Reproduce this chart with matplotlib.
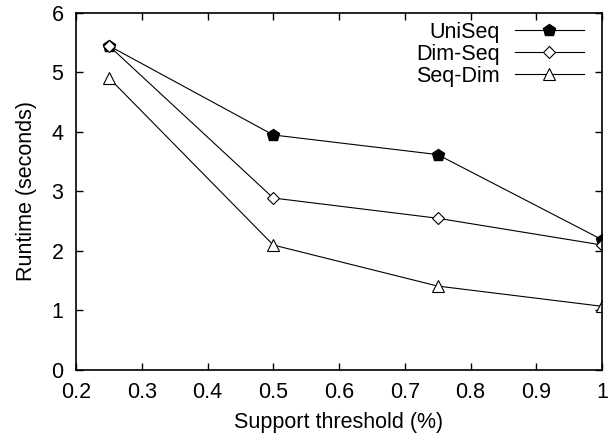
import matplotlib
matplotlib.use("Agg")
import matplotlib.pyplot as plt

plt.rcParams["font.family"] = ["Liberation Sans", "DejaVu Sans"]

support = [0.25, 0.5, 0.75, 1.0]
uniseq = [5.45, 3.95, 3.62, 2.19]
dimseq = [5.45, 2.89, 2.55, 2.10]
seqdim = [4.91, 2.10, 1.41, 1.07]

fig = plt.figure(figsize=(6.14, 4.42), dpi=100)
ax = fig.add_axes([0.1238, 0.163, 0.8567, 0.8076])

ax.plot(support, uniseq, "-", color="black", lw=0.8, marker="p", ms=9,
        mfc="black", mec="black", label="UniSeq")
ax.plot(support, dimseq, "-", color="black", lw=0.8, marker="D", ms=6.5,
        mfc="white", mec="black", mew=0.8, label="Dim-Seq")
ax.plot(support, seqdim, "-", color="black", lw=0.8, marker="^", ms=9,
        mfc="white", mec="black", mew=0.8, label="Seq-Dim")

ax.set_xlim(0.2, 1.0)
ax.set_ylim(0, 6)
ax.set_xticks([0.2, 0.3, 0.4, 0.5, 0.6, 0.7, 0.8, 0.9, 1.0])
ax.set_xticklabels(["0.2", "0.3", "0.4", "0.5", "0.6", "0.7", "0.8", "0.9", "1"])
ax.set_yticks(range(7))
ax.tick_params(direction="in", top=True, right=True, length=5, width=1,
               labelsize=15.5, pad=9)
for s in ax.spines.values():
    s.set_linewidth(1.2)
ax.set_xlabel("Support threshold (%)", fontsize=15.5, labelpad=6)
ax.set_ylabel("Runtime (seconds)", fontsize=15.5, labelpad=10)

ax.legend(loc="upper right", frameon=False, markerfirst=False, fontsize=15.5,
          handlelength=3.2, labelspacing=0.05, handletextpad=0.7,
          borderaxespad=0.2, bbox_to_anchor=(0.99, 1.012))

fig.savefig("out.png", dpi=100)
